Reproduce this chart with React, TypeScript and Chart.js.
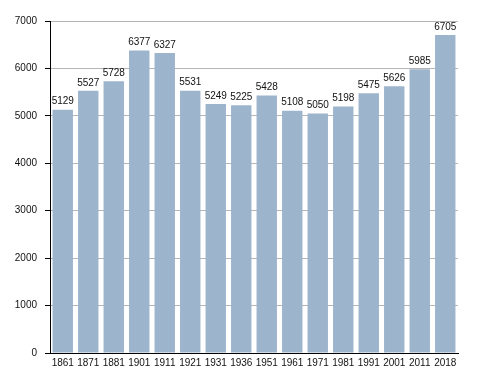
import React, { useEffect, useRef } from "react";
import { Chart, registerables } from "chart.js";

Chart.register(...registerables);

const years = ["1861", "1871", "1881", "1901", "1911", "1921", "1931", "1936", "1951", "1961", "1971", "1981", "1991", "2001", "2011", "2018"];
const population = [5129, 5527, 5728, 6377, 6327, 5531, 5249, 5225, 5428, 5108, 5050, 5198, 5475, 5626, 5985, 6705];

const FONT = "'Liberation Sans', Arial, Helvetica, sans-serif";

const valueLabels = {
  id: "valueLabels",
  afterDatasetsDraw(chart: any) {
    const ctx = chart.ctx;
    const meta = chart.getDatasetMeta(0);
    ctx.save();
    ctx.font = `10px ${FONT}`;
    ctx.fillStyle = "#111";
    ctx.textAlign = "center";
    ctx.textBaseline = "bottom";
    meta.data.forEach((bar: any, i: number) => {
      ctx.fillText(String(population[i]), bar.x, bar.y - 3);
    });
    ctx.restore();
  },
};

export default function App() {
  const ref = useRef<HTMLCanvasElement>(null);
  useEffect(() => {
    document.body.style.margin = "0";
    const chart = new Chart(ref.current!, {
      type: "bar",
      data: {
        labels: years,
        datasets: [
          {
            data: population,
            backgroundColor: "#9db4cd",
            borderWidth: 0,
            categoryPercentage: 1,
            barPercentage: 0.8,
          },
        ],
      },
      options: {
        responsive: false,
        animation: false,
        layout: { padding: { top: 21, right: 30, left: 0, bottom: 0 } },
        plugins: { legend: { display: false }, tooltip: { enabled: false } },
        scales: {
          x: {
            grid: { display: false, drawTicks: false },
            border: { display: true, color: "#000", width: 1 },
            ticks: { color: "#111", font: { family: FONT, size: 10 }, padding: 4, maxRotation: 0, autoSkip: false },
            afterFit: (s: any) => { s.height = 20; },
          },
          y: {
            min: 0,
            max: 7000,
            ticks: { stepSize: 1000, color: "#111", font: { family: FONT, size: 10 }, padding: 8, callback: (v: any) => String(v) },
            grid: { color: "#b5b5b5", tickLength: 5, tickColor: "#000" },
            border: { display: true, color: "#000", width: 1 },
            afterFit: (s: any) => { s.width = 50; },
          },
        },
      },
      plugins: [valueLabels],
    });
    return () => chart.destroy();
  }, []);
  return (
    <div style={{ position: "absolute", left: 0, top: 0, width: 488, height: 373, background: "#fff" }}>
      <canvas ref={ref} width={488} height={373} />
    </div>
  );
}
